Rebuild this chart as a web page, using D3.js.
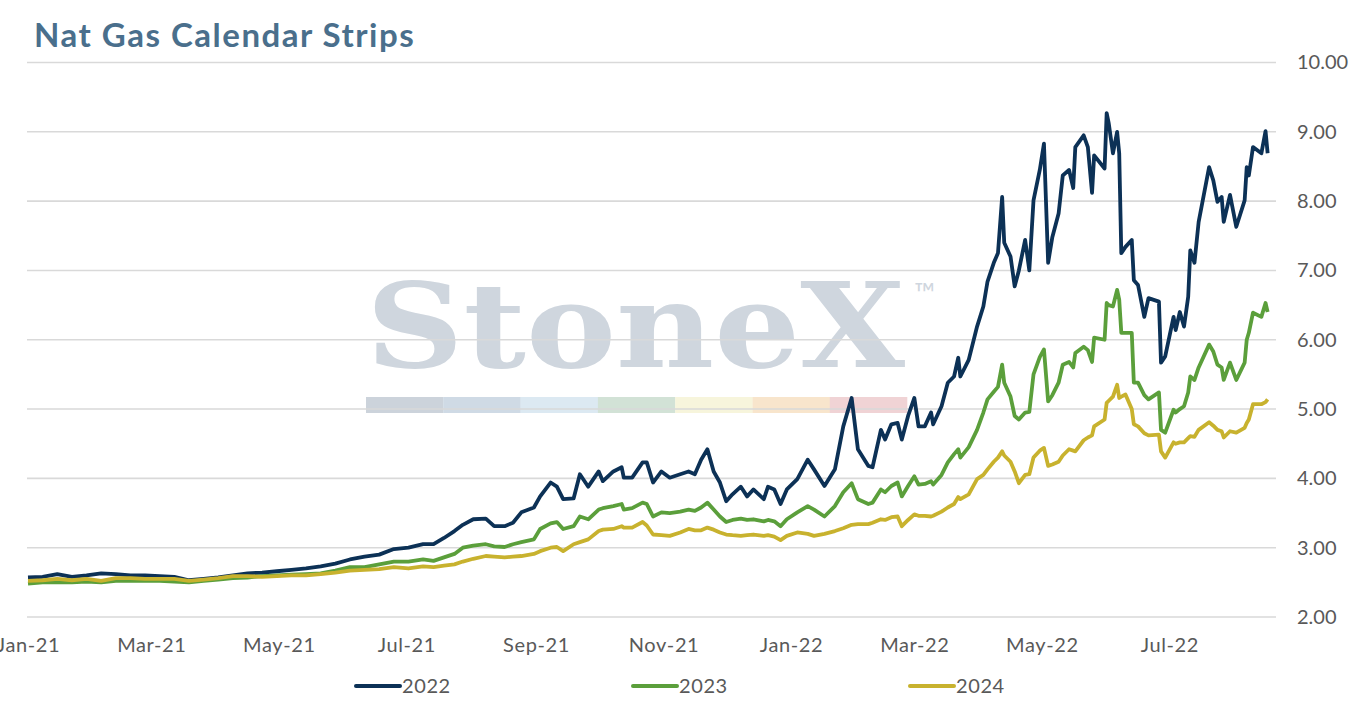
<!DOCTYPE html>
<html>
<head>
<meta charset="utf-8">
<script src="https://cdn.jsdelivr.net/npm/d3@7"></script>
<style>
  body { margin: 0; background: #fff; }
  svg text { font-family: Lato, "Open Sans", sans-serif; }
</style>
</head>
<body>
<div id="chart"></div>
<script>
// dates of the strip settlements (sampled)
var dates = [
  "2021-01-01","2021-01-08","2021-01-15","2021-01-22","2021-01-29","2021-02-05","2021-02-12","2021-02-19",
  "2021-02-26","2021-03-05","2021-03-12","2021-03-19","2021-03-26","2021-04-02","2021-04-09","2021-04-16",
  "2021-04-23","2021-04-30","2021-05-07","2021-05-14","2021-05-21","2021-05-28","2021-06-04","2021-06-11",
  "2021-06-18","2021-06-25","2021-07-02","2021-07-09",
  "2021-07-14","2021-07-19","2021-07-24","2021-07-28","2021-08-02","2021-08-08","2021-08-12","2021-08-17",
  "2021-08-21","2021-08-25","2021-08-31","2021-09-03","2021-09-08","2021-09-11","2021-09-14","2021-09-19",
  "2021-09-22","2021-09-26","2021-10-01","2021-10-03","2021-10-08","2021-10-12","2021-10-13","2021-10-17",
  "2021-10-22","2021-10-24","2021-10-27","2021-10-31","2021-11-04","2021-11-09","2021-11-13","2021-11-16",
  "2021-11-19","2021-11-22","2021-11-25","2021-11-28","2021-12-01","2021-12-04","2021-12-08","2021-12-11",
  "2021-12-14","2021-12-19","2021-12-21","2021-12-24","2021-12-27",
  "2021-12-30","2022-01-04","2022-01-09","2022-01-12","2022-01-17","2022-01-22","2022-01-26","2022-01-30",
  "2022-02-02","2022-02-07","2022-02-09","2022-02-13","2022-02-15","2022-02-18","2022-02-21","2022-02-23",
  "2022-02-26","2022-03-01","2022-03-03","2022-03-06","2022-03-09","2022-03-10","2022-03-14","2022-03-17",
  "2022-03-20","2022-03-22","2022-03-23","2022-03-27","2022-03-31","2022-04-03","2022-04-05","2022-04-08",
  "2022-04-10","2022-04-12","2022-04-13","2022-04-16","2022-04-18","2022-04-20","2022-04-23","2022-04-25",
  "2022-04-27","2022-04-30","2022-05-02","2022-05-04","2022-05-06","2022-05-09","2022-05-11","2022-05-14",
  "2022-05-16","2022-05-17","2022-05-21","2022-05-23","2022-05-25","2022-05-26","2022-05-31","2022-06-01",
  "2022-06-02","2022-06-04","2022-06-06","2022-06-07","2022-06-08","2022-06-10","2022-06-13","2022-06-14",
  "2022-06-16","2022-06-19","2022-06-21","2022-06-26","2022-06-27","2022-06-29","2022-07-03","2022-07-04",
  "2022-07-06","2022-07-08","2022-07-10","2022-07-11","2022-07-13","2022-07-15","2022-07-20","2022-07-22",
  "2022-07-24","2022-07-26","2022-07-27","2022-07-30","2022-08-02","2022-08-06","2022-08-07","2022-08-08",
  "2022-08-10","2022-08-14","2022-08-16","2022-08-17"
];

var cal2022 = [
  2.57,2.58,2.62,2.58,2.60,2.63,2.62,2.60,
  2.60,2.59,2.58,2.53,2.55,2.57,2.60,2.63,
  2.64,2.66,2.68,2.70,2.73,2.77,2.83,2.87,
  2.90,2.98,3.00,3.05,
  3.05,3.14,3.24,3.33,3.41,3.42,3.31,3.31,
  3.36,3.51,3.58,3.74,3.94,3.88,3.70,3.71,
  4.06,3.88,4.10,3.96,4.10,4.16,4.01,4.01,
  4.23,4.23,3.94,4.10,4.01,4.06,4.10,4.06,
  4.27,4.42,4.10,3.94,3.67,3.77,3.88,3.74,
  3.84,3.70,3.88,3.84,3.63,
  3.84,3.99,4.27,4.13,3.89,4.13,4.75,5.16,
  4.42,4.18,4.16,4.70,4.56,4.78,4.80,4.56,
  4.90,5.16,4.75,4.75,4.95,4.78,5.04,5.38,
  5.47,5.74,5.47,5.71,6.19,6.48,6.84,7.11,
  7.25,8.06,7.40,7.20,6.77,7.00,7.44,7.00,
  8.01,8.45,8.83,7.11,7.48,7.82,8.37,8.45,
  8.19,8.78,8.95,8.78,8.12,8.66,8.47,9.27,
  9.12,8.69,9.00,8.69,7.25,7.34,7.44,6.86,
  6.79,6.33,6.60,6.55,5.67,5.76,6.33,6.14,
  6.40,6.19,6.62,7.29,7.11,7.70,8.49,8.30,
  7.99,8.06,7.70,8.09,7.63,8.01,8.49,8.37,
  8.78,8.69,9.01,8.69
];

var cal2023 = [
  2.48,2.50,2.50,2.50,2.51,2.50,2.52,2.52,
  2.52,2.52,2.51,2.50,2.52,2.54,2.56,2.57,
  2.59,2.60,2.61,2.62,2.63,2.67,2.72,2.72,
  2.76,2.80,2.80,2.83,
  2.81,2.86,2.91,3.00,3.03,3.05,3.02,3.01,
  3.05,3.08,3.12,3.27,3.35,3.37,3.27,3.31,
  3.45,3.41,3.55,3.57,3.60,3.63,3.55,3.57,
  3.65,3.63,3.45,3.51,3.50,3.52,3.55,3.53,
  3.58,3.65,3.55,3.45,3.37,3.40,3.42,3.40,
  3.41,3.38,3.40,3.38,3.31,
  3.41,3.51,3.60,3.55,3.45,3.60,3.80,3.93,
  3.70,3.63,3.65,3.84,3.80,3.89,3.94,3.74,
  3.89,4.03,3.91,3.92,3.96,3.91,4.05,4.23,
  4.35,4.42,4.30,4.45,4.70,4.95,5.14,5.25,
  5.32,5.64,5.38,5.18,4.90,4.85,4.95,4.96,
  5.50,5.75,5.86,5.11,5.20,5.38,5.64,5.68,
  5.60,5.81,5.90,5.85,5.68,6.03,6.00,6.53,
  6.50,6.48,6.72,6.58,6.10,6.10,6.10,5.38,
  5.38,5.20,5.14,5.24,4.70,4.66,4.99,4.95,
  5.00,5.04,5.24,5.47,5.42,5.60,5.93,5.83,
  5.64,5.60,5.42,5.67,5.42,5.67,6.00,6.10,
  6.39,6.33,6.53,6.40
];

var cal2024 = [
  2.52,2.53,2.55,2.53,2.55,2.52,2.56,2.56,
  2.55,2.55,2.55,2.52,2.54,2.56,2.59,2.59,
  2.58,2.59,2.60,2.60,2.62,2.64,2.67,2.68,
  2.69,2.72,2.70,2.73,
  2.72,2.74,2.76,2.80,2.84,2.88,2.87,2.86,
  2.87,2.88,2.91,2.95,3.00,3.01,2.95,3.05,
  3.08,3.12,3.24,3.26,3.27,3.31,3.29,3.29,
  3.37,3.32,3.19,3.18,3.17,3.22,3.27,3.25,
  3.25,3.29,3.26,3.22,3.19,3.18,3.17,3.18,
  3.19,3.17,3.18,3.16,3.11,
  3.17,3.22,3.20,3.17,3.20,3.24,3.28,3.33,
  3.34,3.34,3.36,3.41,3.40,3.44,3.45,3.31,
  3.40,3.48,3.46,3.46,3.45,3.46,3.52,3.58,
  3.63,3.73,3.70,3.77,3.99,4.05,4.13,4.24,
  4.30,4.39,4.33,4.24,4.10,3.93,4.05,4.06,
  4.30,4.40,4.44,4.18,4.20,4.24,4.33,4.42,
  4.40,4.39,4.55,4.59,4.62,4.75,4.85,5.09,
  5.12,5.18,5.35,5.16,5.18,5.21,5.00,4.78,
  4.75,4.65,4.62,4.63,4.39,4.30,4.52,4.50,
  4.52,4.52,4.58,4.61,4.60,4.70,4.81,4.76,
  4.70,4.68,4.59,4.68,4.66,4.73,4.80,4.85,
  5.07,5.07,5.10,5.14
];

var seriesNames = ["2022", "2023", "2024"];
var seriesColors = ["#0c3156", "#5b9f3b", "#c8b22e"];
var yTicks = [2, 3, 4, 5, 6, 7, 8, 9, 10];
var logoColors = ["#ccd3db", "#cfdae5", "#dce9f2", "#d2e2d6", "#f7f5dc", "#f8e5cc", "#f0d3d5"];

var w = 1354, h = 707;
var parse = d3.timeParse("%Y-%m-%d");
var xDates = dates.map(parse);

var x = d3.scaleTime()
  .domain([parse("2021-01-01"), parse("2022-08-21")])
  .range([28, 1276]);

var y = d3.scaleLinear()
  .domain([2, 10])
  .range([617, 62.5]);

var svg = d3.select("#chart")
  .append("svg")
  .attr("width", w)
  .attr("height", h);

// title
svg.append("text")
  .attr("x", 34)
  .attr("y", 47)
  .attr("font-size", 33)
  .attr("font-weight", 700)
  .attr("letter-spacing", 1.5)
  .attr("fill", "#4a6f8c")
  .text("Nat Gas Calendar Strips");

// watermark
var logo = svg.append("g");
logo.append("text")
  .attr("x", 366)
  .attr("y", 367)
  .attr("font-size", 118)
  .attr("font-weight", 700)
  .attr("textLength", 539)
  .attr("lengthAdjust", "spacingAndGlyphs")
  .style("font-family", "'DejaVu Serif', 'Liberation Serif', serif")
  .attr("fill", "#cfd6de")
  .text("StoneX");
logo.append("text")
  .attr("x", 914)
  .attr("y", 303)
  .attr("font-size", 28)
  .attr("fill", "#cfd6de")
  .text("\u2122");
logo.selectAll("rect")
  .data(logoColors)
  .enter()
  .append("rect")
  .attr("x", function(d, i) { return 366 + i * 77.3; })
  .attr("y", 397)
  .attr("width", 77.5)
  .attr("height", 16)
  .attr("fill", function(d) { return d; });

// gridlines
svg.append("g")
  .selectAll("line")
  .data(yTicks)
  .enter()
  .append("line")
  .attr("x1", 27)
  .attr("x2", 1276)
  .attr("y1", function(d) { return y(d); })
  .attr("y2", function(d) { return y(d); })
  .attr("stroke", "#d9d9d9")
  .attr("stroke-width", 1.6);

// y axis on the right
var yAxis = svg.append("g")
  .attr("transform", "translate(1276,0)")
  .call(d3.axisRight(y).tickValues(yTicks).tickSize(0).tickPadding(21).tickFormat(d3.format(".2f")));
yAxis.select(".domain").remove();
yAxis.selectAll("text")
  .attr("font-size", 20)
  .attr("fill", "#595959")
  .style("font-family", "Lato, sans-serif");

// x axis
var xAxis = svg.append("g")
  .attr("transform", "translate(0,617)")
  .call(d3.axisBottom(x).ticks(d3.timeMonth.every(2)).tickSize(0).tickPadding(21).tickFormat(d3.timeFormat("%b-%y")));
xAxis.select(".domain").remove();
xAxis.selectAll("text")
  .attr("font-size", 20)
  .attr("letter-spacing", 0.6)
  .attr("fill", "#595959")
  .style("font-family", "Lato, sans-serif");

// lines
var allSeries = [cal2022, cal2023, cal2024];
var line = d3.line()
  .x(function(d, i) { return x(xDates[i]); })
  .y(function(d) { return y(d); });

svg.append("g")
  .selectAll("path")
  .data(allSeries)
  .enter()
  .append("path")
  .attr("d", line)
  .attr("fill", "none")
  .attr("stroke", function(d, i) { return seriesColors[i]; })
  .attr("stroke-width", 3.8)
  .attr("stroke-linejoin", "round");

// legend
var legend = svg.append("g")
  .selectAll("g")
  .data(seriesNames)
  .enter()
  .append("g")
  .attr("transform", function(d, i) { return "translate(" + (356 + i * 277) + ",686)"; });
legend.append("line")
  .attr("x1", 0)
  .attr("x2", 44)
  .attr("stroke", function(d, i) { return seriesColors[i]; })
  .attr("stroke-width", 4)
  .attr("stroke-linecap", "round");
legend.append("text")
  .attr("x", 46)
  .attr("y", 7)
  .attr("font-size", 20)
  .attr("letter-spacing", 0.6)
  .attr("fill", "#595959")
  .text(function(d) { return d; });
</script>
</body>
</html>
